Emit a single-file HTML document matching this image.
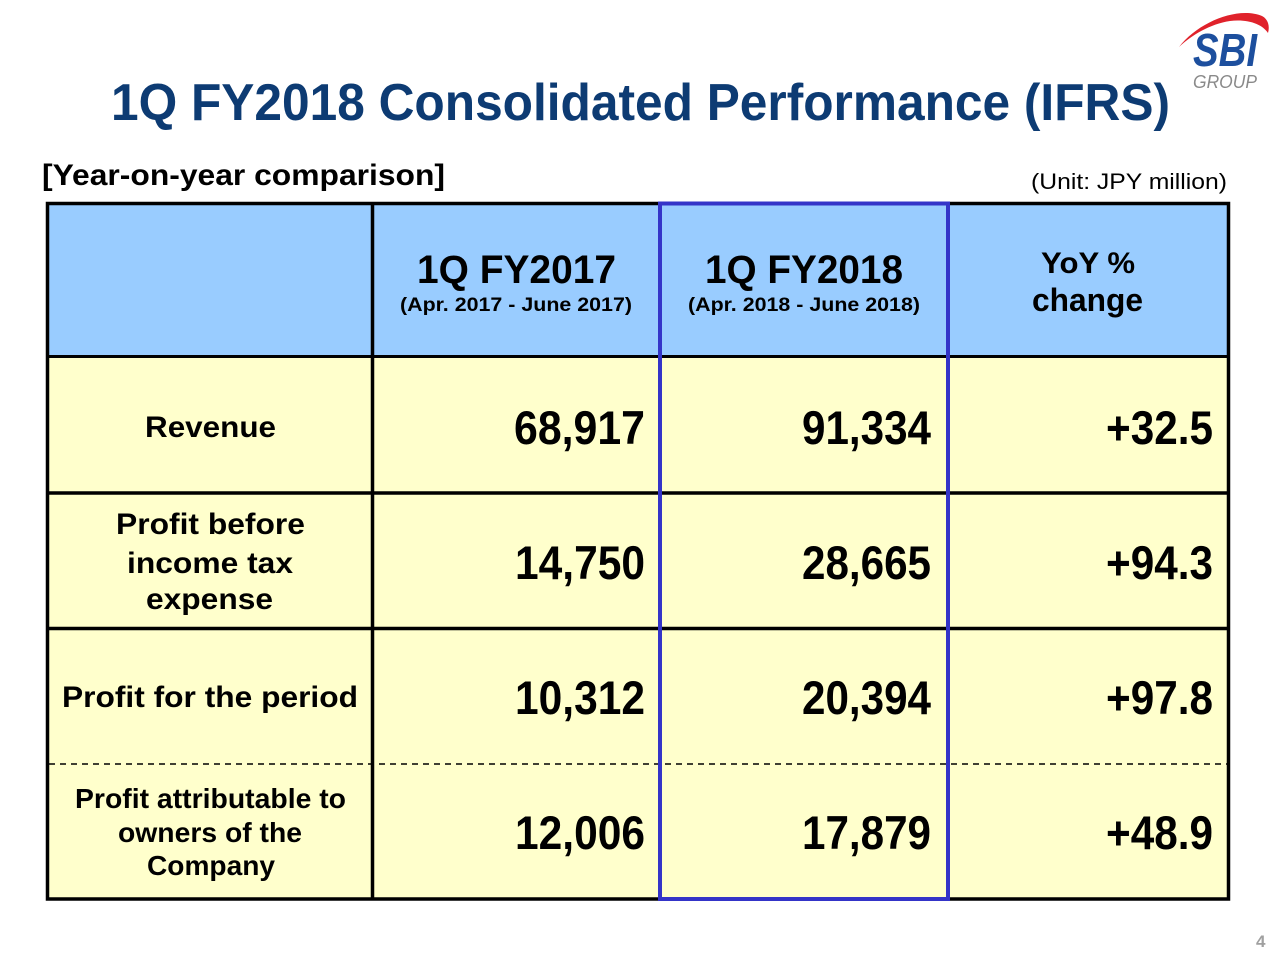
<!DOCTYPE html>
<html>
<head>
<meta charset="utf-8">
<style>
  html,body{margin:0;padding:0;background:#fff;}
  svg{display:block;}
  text{font-family:"Liberation Sans", Arial, sans-serif;}
</style>
</head>
<body>
<svg width="1280" height="960" viewBox="0 0 1280 960" xmlns="http://www.w3.org/2000/svg">
  <rect x="0" y="0" width="1280" height="960" fill="#ffffff"/>

  <!-- Logo -->
  <path d="M1179,47 C1198,22 1238,6 1262,16 C1268,19 1270,26 1268,33 C1262,24 1248,19 1230,21 C1210,24 1192,35 1179,47 Z" fill="#e0222b"/>
  <text x="1193" y="66" font-size="46" font-weight="bold" font-style="italic" fill="#1d4f9e" textLength="64" lengthAdjust="spacingAndGlyphs">SBI</text>
  <text x="1193" y="88" font-size="18" font-style="italic" fill="#8a8a8a" textLength="64" lengthAdjust="spacingAndGlyphs">GROUP</text>

  <!-- Title -->
  <text x="111" y="120" font-size="52" font-weight="bold" fill="#0d3b73" textLength="1059" lengthAdjust="spacingAndGlyphs">1Q FY2018 Consolidated Performance (IFRS)</text>

  <text x="42" y="185" font-size="30" font-weight="bold" fill="#000" textLength="403" lengthAdjust="spacingAndGlyphs">[Year-on-year comparison]</text>
  <text x="1031" y="189" font-size="22" fill="#000" textLength="196" lengthAdjust="spacingAndGlyphs">(Unit: JPY million)</text>

  <!-- Table backgrounds -->
  <rect x="48" y="204" width="1180" height="153" fill="#99ccff"/>
  <rect x="48" y="357" width="1180" height="541" fill="#ffffcc"/>

  <!-- Grid lines -->
  <line x1="47" y1="356.5" x2="1229" y2="356.5" stroke="#000" stroke-width="3"/>
  <line x1="47" y1="493" x2="1229" y2="493" stroke="#000" stroke-width="3.5"/>
  <line x1="47" y1="628.5" x2="1229" y2="628.5" stroke="#000" stroke-width="3.5"/>
  <line x1="49" y1="764" x2="1227" y2="764" stroke="#000" stroke-width="1.5" stroke-dasharray="6 5"/>
  <line x1="372.5" y1="203" x2="372.5" y2="899" stroke="#000" stroke-width="3.5"/>
  <rect x="47.5" y="203.5" width="1181" height="695.5" fill="none" stroke="#000" stroke-width="3.5"/>
  <rect x="660" y="203.5" width="288" height="695.5" fill="none" stroke="#3434c8" stroke-width="4"/>

  <!-- Header text -->
  <text x="417" y="283" font-size="40" font-weight="bold" fill="#000" textLength="199" lengthAdjust="spacingAndGlyphs">1Q FY2017</text>
  <text x="400" y="311" font-size="19" font-weight="bold" fill="#000" textLength="232" lengthAdjust="spacingAndGlyphs">(Apr. 2017 - June 2017)</text>
  <text x="705" y="283" font-size="40" font-weight="bold" fill="#000" textLength="198" lengthAdjust="spacingAndGlyphs">1Q FY2018</text>
  <text x="688" y="311" font-size="19" font-weight="bold" fill="#000" textLength="232" lengthAdjust="spacingAndGlyphs">(Apr. 2018 - June 2018)</text>
  <text x="1041" y="273" font-size="30" font-weight="bold" fill="#000" textLength="94" lengthAdjust="spacingAndGlyphs">YoY %</text>
  <text x="1032" y="311" font-size="32" font-weight="bold" fill="#000" textLength="111" lengthAdjust="spacingAndGlyphs">change</text>

  <!-- Row labels -->
  <text x="145" y="437" font-size="30" font-weight="bold" fill="#000" textLength="131" lengthAdjust="spacingAndGlyphs">Revenue</text>

  <text x="116" y="534" font-size="30" font-weight="bold" fill="#000" textLength="189" lengthAdjust="spacingAndGlyphs">Profit before</text>
  <text x="127" y="573" font-size="30" font-weight="bold" fill="#000" textLength="166" lengthAdjust="spacingAndGlyphs">income tax</text>
  <text x="146" y="609" font-size="30" font-weight="bold" fill="#000" textLength="127" lengthAdjust="spacingAndGlyphs">expense</text>

  <text x="62" y="707" font-size="30" font-weight="bold" fill="#000" textLength="296" lengthAdjust="spacingAndGlyphs">Profit for the period</text>

  <text x="75" y="808" font-size="28" font-weight="bold" fill="#000" textLength="271" lengthAdjust="spacingAndGlyphs">Profit attributable to</text>
  <text x="118" y="842" font-size="28" font-weight="bold" fill="#000" textLength="184" lengthAdjust="spacingAndGlyphs">owners of the</text>
  <text x="147" y="875" font-size="28" font-weight="bold" fill="#000" textLength="128" lengthAdjust="spacingAndGlyphs">Company</text>

  <!-- Numbers -->
  <g font-size="47" font-weight="bold" fill="#000">
    <text x="514" y="444" textLength="131" lengthAdjust="spacingAndGlyphs">68,917</text>
    <text x="802" y="444" textLength="129" lengthAdjust="spacingAndGlyphs">91,334</text>
    <text x="1106" y="444" textLength="107" lengthAdjust="spacingAndGlyphs">+32.5</text>

    <text x="515" y="579" textLength="130" lengthAdjust="spacingAndGlyphs">14,750</text>
    <text x="802" y="579" textLength="129" lengthAdjust="spacingAndGlyphs">28,665</text>
    <text x="1106" y="579" textLength="107" lengthAdjust="spacingAndGlyphs">+94.3</text>

    <text x="515" y="714" textLength="130" lengthAdjust="spacingAndGlyphs">10,312</text>
    <text x="802" y="714" textLength="129" lengthAdjust="spacingAndGlyphs">20,394</text>
    <text x="1106" y="714" textLength="107" lengthAdjust="spacingAndGlyphs">+97.8</text>

    <text x="515" y="849" textLength="130" lengthAdjust="spacingAndGlyphs">12,006</text>
    <text x="802" y="849" textLength="129" lengthAdjust="spacingAndGlyphs">17,879</text>
    <text x="1106" y="849" textLength="107" lengthAdjust="spacingAndGlyphs">+48.9</text>
  </g>

  <!-- Page number -->
  <text x="1256" y="947" font-size="17" font-weight="bold" fill="#a0a0a0">4</text>
</svg>
</body>
</html>
